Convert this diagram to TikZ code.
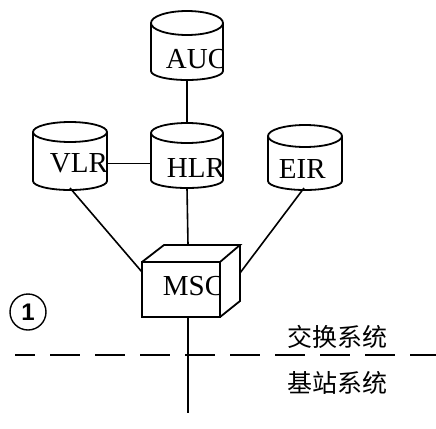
\documentclass[tikz,border=0pt]{standalone}
\usepackage{fontspec}
\setmainfont{Liberation Serif}
\newfontfamily\cjk{Noto Sans CJK SC}
\newfontfamily\numfont{Liberation Sans}
\begin{document}
\begin{tikzpicture}[x=1pt,y=1pt,line width=1.8pt,
  lbl/.style={anchor=base west,inner sep=0pt,font=\fontsize{29}{31}\selectfont},
  cjklbl/.style={inner sep=0pt,font=\cjk\fontsize{25}{27}\selectfont},
  link/.style={line width=1.6pt}]
\useasboundingbox (0,0) rectangle (436,-428);
% cylinder: name, centre x, top ellipse centre y, half width, top ry, bottom ellipse centre y, bottom ry
\newcommand{\mycyl}[7]{%
  \coordinate (#1-top) at (#2,{-(#3)+(#5)});
  \coordinate (#1-bot) at (#2,{-(#6)-(#7)});
  \coordinate (#1-w) at ({#2-#4},{-(#3+#6)/2});
  \coordinate (#1-e) at ({#2+#4},{-(#3+#6)/2});
  \draw ({#2-#4},-#3) -- ({#2-#4},-#6) arc (180:360:#4 and #7) -- ({#2+#4},-#3);
  \draw (#2,-#3) ellipse (#4 and #5);
}
\mycyl{auc}{187}{23}{36}{12}{71}{9}
\mycyl{hlr}{187}{133}{36}{10}{180}{8}
\mycyl{vlr}{70}{132}{37}{10}{181}{9}
\mycyl{eir}{305}{136}{37}{11}{181}{9}
% labels clipped at the cylinder sides
\begin{scope}\clip (150,-40) rectangle (222,-80);
\node[lbl] (tauc) at (165,-68) {AUC};\end{scope}
\begin{scope}\clip (150,-145) rectangle (222,-190);
\node[lbl] (thlr) at (166,-177) {HLR};\end{scope}
\begin{scope}\clip (33,-140) rectangle (106,-190);
\node[lbl] (tvlr) at (49,-172) {VLR};\end{scope}
\node[lbl] (teir) at (278,-178) {EIR};
% MSC box
\coordinate (m1) at (142,-262);
\coordinate (m2) at (220,-262);
\coordinate (m3) at (220,-317);
\coordinate (m4) at (142,-317);
\coordinate (m5) at (164,-245);
\coordinate (m6) at (240,-245);
\coordinate (m7) at (240,-301);
\draw (m1) -- (m2) -- (m3) -- (m4) -- cycle;
\draw (m1) -- (m5) -- (m6) -- (m2);
\draw (m6) -- (m7) -- (m3);
\begin{scope}\clip (142,-262) rectangle (219,-317);
\node[lbl] (tmsc) at (162,-295) {MSC};\end{scope}
\coordinate (msctop) at (188,-245);
\coordinate (mscbot) at (188,-317);
\coordinate (mscl) at (142,-272);
\coordinate (mscr) at (240,-273);
\coordinate (vlrb) at (70,-188);
\coordinate (eirb) at (304,-188);
\coordinate (end) at (188,-413);
% connectors
\draw[link] (auc-bot) -- (hlr-top);
\draw[link] (vlr-e) ++(0,-7) coordinate (ve) -- (ve -| hlr-w);
\draw[link] (hlr-bot) -- (msctop);
\draw[link] (vlrb) -- (mscl);
\draw[link] (eirb) -- (mscr);
\draw[link] (mscbot) -- (end);
% dashed boundary
\coordinate (dl) at (15,-355);
\coordinate (dr) at (436,-355);
\draw[line width=2.2pt,dash pattern=on 30pt off 15pt,dash phase=10pt] (dl) -- (dr);
% circled one
\node[draw,circle,minimum size=36pt,inner sep=0pt,line width=1.4pt,font=\numfont\bfseries\fontsize{24}{26}\selectfont] (c1) at (28,-312) {1};
% Chinese labels
\node[cjklbl] (t1) at (337,-337) {交换系统};
\node[cjklbl] (t2) at (337,-383) {基站系统};
\end{tikzpicture}
\end{document}
